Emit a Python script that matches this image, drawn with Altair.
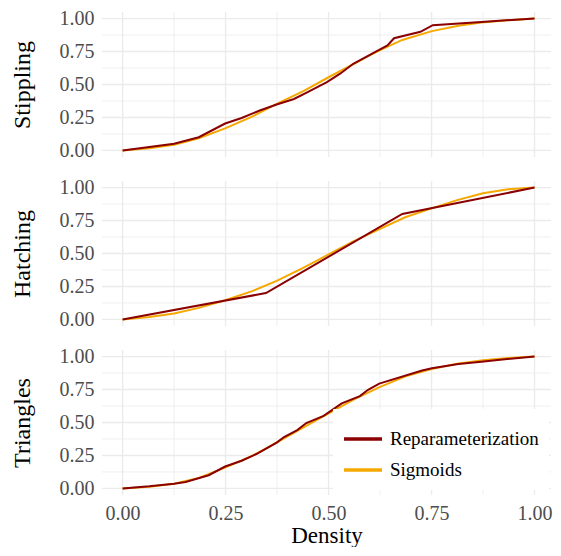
import altair as alt
import pandas as pd

PANELS = ["Stippling", "Hatching", "Triangles"]
METHODS = ["Reparameterization", "Sigmoids"]
COLORS = ["#8B0000", "#F5A800"]

TICKS = [0.0, 0.25, 0.5, 0.75, 1.0]
MINOR = [0.125, 0.375, 0.625, 0.875]

# Stippling
stip_rep_x = [0, 0.125, 0.185, 0.249, 0.289, 0.333, 0.374, 0.416, 0.448, 0.496, 0.528, 0.56,
              0.616, 0.643, 0.659, 0.723, 0.753, 0.871, 1.0]
stip_rep_y = [0, 0.05, 0.10, 0.204, 0.246, 0.303, 0.348, 0.39, 0.44, 0.518, 0.582, 0.657,
              0.751, 0.796, 0.851, 0.90, 0.95, 0.975, 1.0]
stip_sig_x = [0, 0.065, 0.125, 0.185, 0.249, 0.313, 0.374, 0.44, 0.5, 0.56, 0.616, 0.679,
              0.751, 0.815, 0.871, 0.934, 1.0]
stip_sig_y = [0, 0.017, 0.042, 0.092, 0.167, 0.254, 0.353, 0.452, 0.555, 0.655, 0.748, 0.838,
              0.905, 0.945, 0.970, 0.987, 1.0]

# Hatching
hatch_rep_x = [0, 0.348, 0.679, 1.0]
hatch_rep_y = [0, 0.2, 0.8, 1.0]
hatch_sig_x = [0, 0.065, 0.125, 0.185, 0.249, 0.313, 0.374, 0.436, 0.5, 0.56, 0.625, 0.686,
               0.75, 0.812, 0.875, 0.936, 1.0]
hatch_sig_y = [0, 0.0175, 0.045, 0.0875, 0.145, 0.2125, 0.2925, 0.3875, 0.4925, 0.5925, 0.6875,
               0.775, 0.8425, 0.905, 0.9575, 0.9875, 1.0]

# Triangles
tri_rep_x = [0, 0.065, 0.125, 0.153, 0.209, 0.249, 0.289, 0.328, 0.374, 0.392, 0.424, 0.446,
             0.488, 0.532, 0.576, 0.596, 0.623, 0.727, 0.751, 0.815, 0.871, 0.934, 1.0]
tri_rep_y = [0, 0.016, 0.036, 0.048, 0.10, 0.166, 0.21, 0.265, 0.347, 0.39, 0.442, 0.496,
             0.55, 0.645, 0.70, 0.748, 0.795, 0.894, 0.912, 0.944, 0.961, 0.981, 1.0]
tri_sig_x = [0, 0.065, 0.125, 0.185, 0.25, 0.313, 0.375, 0.437, 0.5, 0.562, 0.625, 0.687,
             0.75, 0.812, 0.875, 0.937, 1.0]
tri_sig_y = [0, 0.012, 0.035, 0.08, 0.16, 0.245, 0.35, 0.46, 0.57, 0.675, 0.77, 0.85,
             0.905, 0.945, 0.972, 0.99, 1.0]

FONT = "Liberation Serif"
W, H = 449, 145
XD = [-0.05, 1.04]
YD = [-0.05, 1.05]
GRID = "#EBEBEB"


def make_df(x, y, m):
    return pd.DataFrame({"density": x, "value": y, "method": m})


def panel(name, rx, ry, sx, sy, bottom):
    xs = alt.Scale(domain=XD, nice=False, zero=False)
    ys = alt.Scale(domain=YD, nice=False, zero=False)
    cs = alt.Scale(domain=METHODS, range=COLORS)
    if bottom:
        xaxis = alt.Axis(values=TICKS, format=".2f", title="Density", grid=False, ticks=False,
                         domain=False, labelPadding=8, titlePadding=1, labelFontSize=20,
                         titleFontSize=23, labelFont=FONT, titleFont=FONT)
        legend = alt.Legend(orient="none", legendX=231, legendY=59, title=None,
                            symbolType="stroke", symbolStrokeWidth=3.5, symbolSize=1444,
                            labelFontSize=19, labelColor="black", labelFont=FONT,
                            labelOffset=6, rowPadding=-2, padding=9, fillColor="white",
                            strokeColor="white")
    else:
        xaxis = None
        legend = None
    yaxis = alt.Axis(values=TICKS, format=".2f", title=name, grid=False, ticks=False,
                     domain=False, labelPadding=8, titlePadding=25, labelFontSize=20,
                     titleFontSize=24, labelFont=FONT, titleFont=FONT)

    tick_df = pd.DataFrame({"density": TICKS, "value": TICKS})
    minor_df = pd.DataFrame({"density": MINOR, "value": MINOR})
    gmx = alt.Chart(tick_df).mark_rule(color=GRID, strokeWidth=1.4).encode(
        x=alt.X("density:Q", scale=xs, axis=xaxis))
    gmy = alt.Chart(tick_df).mark_rule(color=GRID, strokeWidth=1.4).encode(
        y=alt.Y("value:Q", scale=ys, axis=yaxis))
    gnx = alt.Chart(minor_df).mark_rule(color=GRID, strokeWidth=0.8).encode(
        x=alt.X("density:Q", scale=xs, axis=xaxis))
    gny = alt.Chart(minor_df).mark_rule(color=GRID, strokeWidth=0.8).encode(
        y=alt.Y("value:Q", scale=ys, axis=yaxis))

    sig = alt.Chart(make_df(sx, sy, "Sigmoids")).mark_line(strokeWidth=2).encode(
        x=alt.X("density:Q", scale=xs, axis=xaxis),
        y=alt.Y("value:Q", scale=ys, axis=yaxis),
        color=alt.Color("method:N", scale=cs, legend=legend),
    )
    rep = alt.Chart(make_df(rx, ry, "Reparameterization")).mark_line(strokeWidth=2).encode(
        x=alt.X("density:Q", scale=xs, axis=xaxis),
        y=alt.Y("value:Q", scale=ys, axis=yaxis),
        color=alt.Color("method:N", scale=cs, legend=legend),
    )
    return alt.layer(gnx, gny, gmx, gmy, sig, rep).properties(width=W, height=H)


p1 = panel(PANELS[0], stip_rep_x, stip_rep_y, stip_sig_x, stip_sig_y, False)
p2 = panel(PANELS[1], hatch_rep_x, hatch_rep_y, hatch_sig_x, hatch_sig_y, False)
p3 = panel(PANELS[2], tri_rep_x, tri_rep_y, tri_sig_x, tri_sig_y, True)

chart = (
    alt.vconcat(p1, p2, p3, spacing=24, bounds="flush")
    .resolve_legend(color="independent")
    .properties(padding={"left": 2, "top": 0, "right": 0, "bottom": 0}, background="white")
    .configure(font=FONT)
    .configure_view(stroke=None)
    .configure_axis(labelFont=FONT, titleFont=FONT, labelColor="#4D4D4D",
                    titleColor="black", titleFontWeight="normal")
    .configure_legend(labelFont=FONT)
)

chart.save("out.html", embed_options={"renderer": "svg", "actions": False})
